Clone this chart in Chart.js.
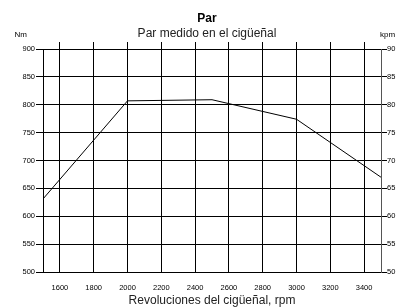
<!DOCTYPE html>
<html>
<head>
<meta charset="utf-8">
<script src="https://cdn.jsdelivr.net/npm/chart.js@4/dist/chart.umd.min.js"></script>
<style>
  body { margin: 0; background: #fff; }
</style>
</head>
<body>
<canvas id="par" width="414" height="308"></canvas>
<script>
// rpm / Nm
const rpm = [1500, 2000, 2500, 3000, 3500];
const torqueNm = [631, 807, 809, 774, 670];
const rpmTicks = [1500, 1600, 1800, 2000, 2200, 2400, 2600, 2800, 3000, 3200, 3400, 3500];
const innerRpmTicks = [1600, 1800, 2000, 2200, 2400, 2600, 2800, 3000, 3200, 3400];

const FONT = 'Liberation Sans, Arial, Helvetica, sans-serif';
const tickFont = { family: FONT, size: 7.5 };

// "Nm" and "kpm" unit labels above the two y axes
const unitLabels = {
  id: 'unitLabels',
  afterDraw(chart) {
    const ctx = chart.ctx;
    const l = chart.scales.y;
    const r = chart.scales.y2;
    ctx.save();
    ctx.font = '8px ' + FONT;
    ctx.fillStyle = '#000';
    ctx.textBaseline = 'alphabetic';
    ctx.textAlign = 'right';
    ctx.fillText('Nm', l.right - 16, chart.chartArea.top - 12);
    ctx.textAlign = 'left';
    ctx.fillText('kpm', r.left - 1, chart.chartArea.top - 12);
    ctx.restore();
  }
};

const ctx = document.getElementById('par').getContext('2d');
new Chart(ctx, {
  type: 'line',
  data: {
    datasets: [{
      data: rpm.map((x, i) => ({ x: x, y: torqueNm[i] })),
      borderColor: '#000',
      borderWidth: 1,
      pointRadius: 0,
      tension: 0,
      fill: false
    }]
  },
  options: {
    responsive: false,
    animation: false,
    layout: { padding: 0 },
    plugins: {
      legend: { display: false },
      tooltip: { enabled: false },
      title: {
        display: true,
        text: 'Par',
        color: '#000',
        font: { family: FONT, size: 12, weight: 'bold' },
        padding: { top: 11, bottom: 1 }
      },
      subtitle: {
        display: true,
        text: 'Par medido en el cigüeñal',
        color: '#222',
        font: { family: FONT, size: 12 },
        padding: { top: 0, bottom: 0 }
      }
    },
    scales: {
      x: {
        type: 'linear',
        position: 'bottom',
        min: 1500,
        max: 3500,
        afterBuildTicks: (s) => { s.ticks = rpmTicks.map(v => ({ value: v })); },
        afterFit: (s) => { s.height = 36; },
        grid: { color: '#000', lineWidth: 1, drawTicks: false },
        border: { color: '#000', width: 1 },
        ticks: {
          color: '#000',
          font: tickFont,
          padding: 11,
          maxRotation: 0,
          callback: (v) => (v === 1500 || v === 3500) ? '' : v
        },
        title: {
          display: true,
          text: 'Revoluciones del cigüeñal, rpm',
          color: '#222',
          font: { family: FONT, size: 12 },
          padding: { top: 0, bottom: 0 }
        }
      },
      xTop: {
        type: 'linear',
        position: 'top',
        min: 1500,
        max: 3500,
        afterBuildTicks: (s) => { s.ticks = innerRpmTicks.map(v => ({ value: v })); },
        afterFit: (s) => { s.height = 8.2; },
        grid: { color: '#000', lineWidth: 1, drawOnChartArea: false, tickLength: 7 },
        border: { display: false },
        ticks: { display: false }
      },
      y: {
        position: 'left',
        min: 500,
        max: 900,
        afterFit: (s) => { s.width = 43; },
        grid: { color: '#000', lineWidth: 1, tickLength: 7 },
        border: { color: '#000', width: 1 },
        ticks: { stepSize: 50, color: '#000', font: tickFont, padding: 1 }
      },
      y2: {
        position: 'right',
        min: 50,
        max: 90,
        afterFit: (s) => { s.width = 33; },
        grid: { color: '#000', lineWidth: 1, drawOnChartArea: false, tickLength: 6 },
        border: { color: '#555', width: 1 },
        ticks: { stepSize: 5, color: '#000', font: tickFont, padding: 0 }
      }
    }
  },
  plugins: [unitLabels]
});
</script>
</body>
</html>
